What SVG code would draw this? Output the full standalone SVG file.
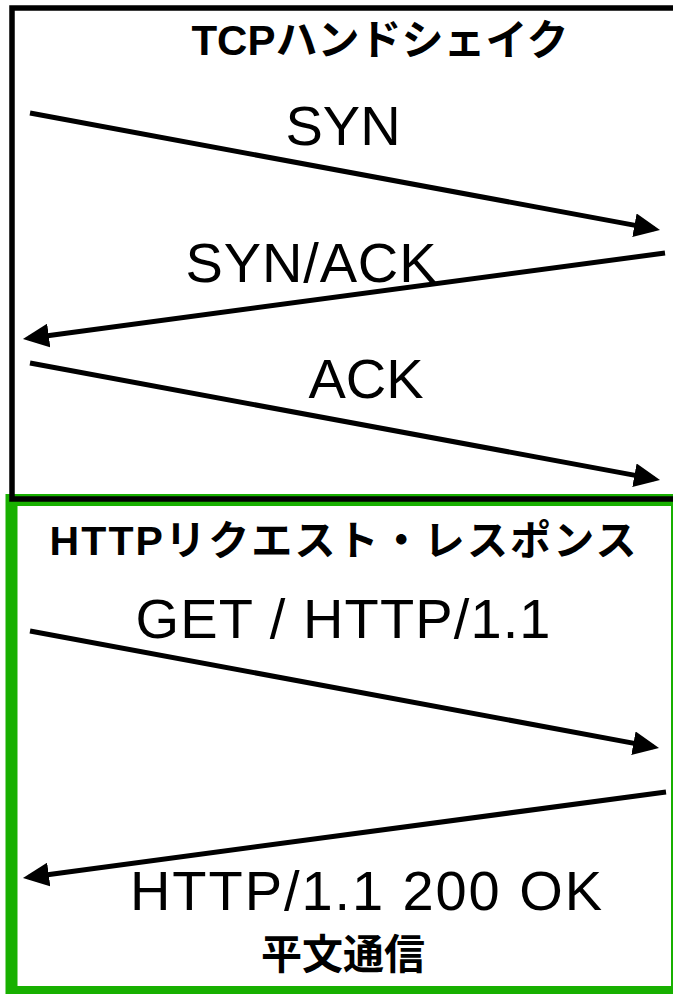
<svg xmlns="http://www.w3.org/2000/svg" width="673" height="994" viewBox="0 0 673 994">
  <style>
    .frame { fill: none; }
    .tcp { stroke: #000; stroke-width: 5.5; }
    .http { stroke: #18b000; stroke-width: 12; }
    .msg { stroke: #000; stroke-width: 5; fill: none; marker-end: url(#head); }
    .title { font-family: "Liberation Sans", "Noto Sans CJK JP", sans-serif; font-weight: bold; fill: #000; text-anchor: middle; }
    .label { font-family: "Liberation Sans", "Noto Sans CJK JP", sans-serif; font-size: 56px; fill: #000; text-anchor: middle; }
  </style>
  <defs>
    <marker id="head" viewBox="0 0 26 24" refX="20" refY="12" markerWidth="26" markerHeight="24" markerUnits="userSpaceOnUse" orient="auto">
      <path d="M0,0 L26,12 L0,24 z" fill="#000"/>
    </marker>
  </defs>
  <rect width="673" height="994" fill="#fff"/>

  <!-- HTTP exchange box -->
  <g id="http-box">
    <rect class="frame http" x="11.5" y="500" width="665.5" height="492"/>
    <text class="title" x="343" y="555" font-size="41" textLength="587" lengthAdjust="spacing">HTTPリクエスト・レスポンス</text>
    <text class="title" x="343" y="969" font-size="41">平文通信</text>
  </g>

  <!-- TCP handshake box -->
  <g id="tcp-box">
    <rect class="frame tcp" x="12" y="8" width="680" height="491"/>
    <text class="title" x="380" y="55" font-size="42">TCPハンドシェイク</text>
  </g>

  <!-- messages -->
  <g id="connectors">
    <line class="msg" x1="30" y1="113" x2="654.1" y2="228.9"/>
    <line class="msg" x1="665" y1="253" x2="28.9" y2="338.2"/>
    <line class="msg" x1="30" y1="363" x2="654.1" y2="478.9"/>
    <line class="msg" x1="30" y1="631" x2="653.1" y2="746.9"/>
    <line class="msg" x1="666" y1="792" x2="28.9" y2="877.2"/>
  </g>

  <g id="labels">
    <text class="label" x="343" y="145">SYN</text>
    <text class="label" x="311" y="282" textLength="251" lengthAdjust="spacing">SYN/ACK</text>
    <text class="label" x="366" y="398">ACK</text>
    <text class="label" x="343" y="638" textLength="415" lengthAdjust="spacing">GET / HTTP/1.1</text>
    <text class="label" x="366" y="910" textLength="472" lengthAdjust="spacing">HTTP/1.1 200 OK</text>
  </g>
</svg>
